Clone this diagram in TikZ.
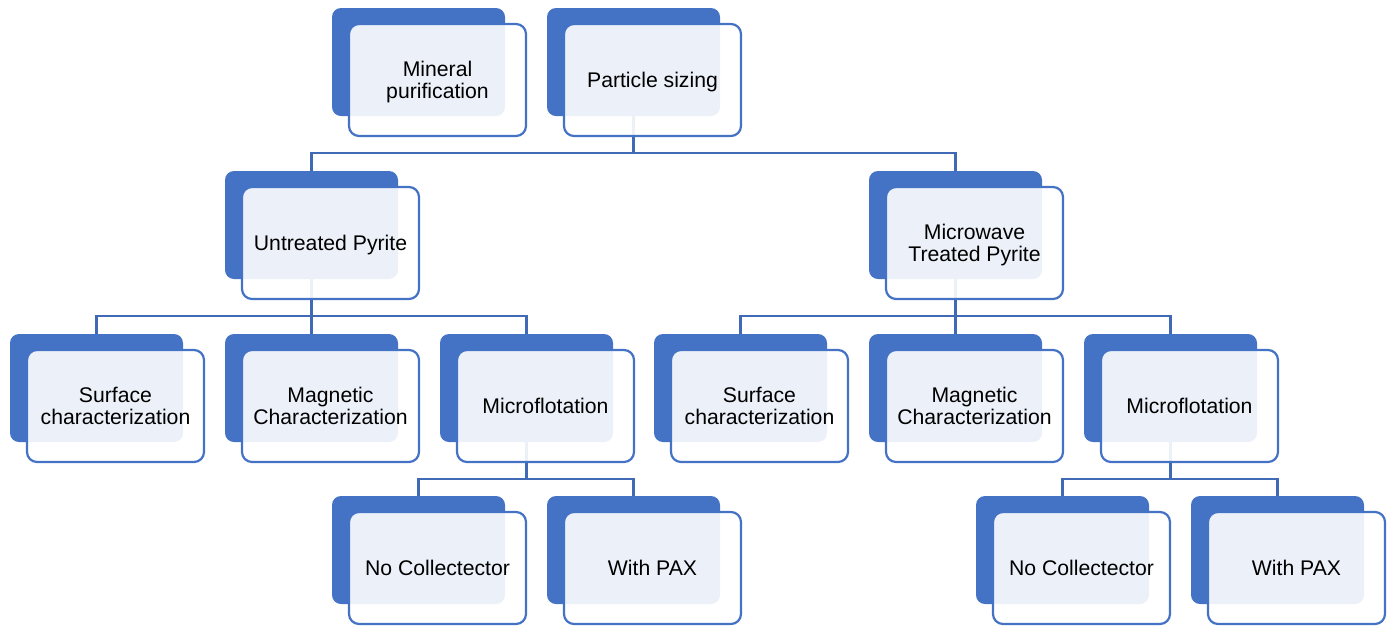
\documentclass[tikz,border=0pt]{standalone}
\usepackage{fontspec}
\setmainfont{Liberation Sans}
\definecolor{accent}{HTML}{4472C4}
\definecolor{lineblue}{HTML}{4069B6}
\tikzset{
 backbox/.style={fill=accent, draw=none, rounded corners=9pt, minimum width=173pt, minimum height=108pt, inner sep=0pt},
 frontbox/.style={fill=white, fill opacity=0.9, text opacity=1, draw=accent, line width=2.2pt, rounded corners=10pt, minimum width=177pt, minimum height=112pt, inner sep=0pt, align=center, font=\fontsize{21.2}{22}\selectfont, text depth=0pt},
 conn/.style={draw=lineblue, line width=2.3pt},
}
\newcommand\frontat[2]{\node[frontbox] (#1) at ([xshift=19pt,yshift=-18pt]#1b.center) {#2};}
\begin{document}
\begin{tikzpicture}[x=1pt,y=-1pt]
\useasboundingbox (0,0) rectangle (1391,625);
% back boxes
\node[backbox] (mpb) at (418.5,62) {};
\node[backbox] (psb) at (633.5,62) {};
\node[backbox] (upb) at (311.5,225) {};
\node[backbox] (mwb) at (955.5,225) {};
\node[backbox] (sc1b) at (96.5,388) {};
\node[backbox] (mc1b) at (311.5,388) {};
\node[backbox] (mf1b) at (526.5,388) {};
\node[backbox] (sc2b) at (740.5,388) {};
\node[backbox] (mc2b) at (955.5,388) {};
\node[backbox] (mf2b) at (1170.5,388) {};
\node[backbox] (nc1b) at (418.5,550) {};
\node[backbox] (px1b) at (633.5,550) {};
\node[backbox] (nc2b) at (1062.5,550) {};
\node[backbox] (px2b) at (1277.5,550) {};
% connectors
\draw[conn] (psb.south) -- (psb.south |- 0,153);
\draw[conn] (upb.north) |- (psb.south |- 0,153) -| (mwb.north);
\draw[conn] (upb.south) -- (upb.south |- 0,316);
\draw[conn] (sc1b.north) |- (upb.south |- 0,316) -| (mf1b.north);
\draw[conn] (mc1b.north) -- (mc1b.north |- 0,316);
\draw[conn] (mwb.south) -- (mwb.south |- 0,316);
\draw[conn] (sc2b.north) |- (mwb.south |- 0,316) -| (mf2b.north);
\draw[conn] (mc2b.north) -- (mc2b.north |- 0,316);
\draw[conn] (mf1b.south) -- (mf1b.south |- 0,479);
\draw[conn] (nc1b.north) |- (mf1b.south |- 0,479) -| (px1b.north);
\draw[conn] (mf2b.south) -- (mf2b.south |- 0,479);
\draw[conn] (nc2b.north) |- (mf2b.south |- 0,479) -| (px2b.north);
% front boxes
\frontat{mp}{Mineral\\purification}
\frontat{ps}{Particle sizing}
\frontat{up}{Untreated Pyrite}
\frontat{mw}{Microwave\\Treated Pyrite}
\frontat{sc1}{Surface\\characterization}
\frontat{mc1}{Magnetic\\Characterization}
\frontat{mf1}{Microflotation}
\frontat{sc2}{Surface\\characterization}
\frontat{mc2}{Magnetic\\Characterization}
\frontat{mf2}{Microflotation}
\frontat{nc1}{No Collectector}
\frontat{px1}{With PAX}
\frontat{nc2}{No Collectector}
\frontat{px2}{With PAX}
\end{tikzpicture}
\end{document}
